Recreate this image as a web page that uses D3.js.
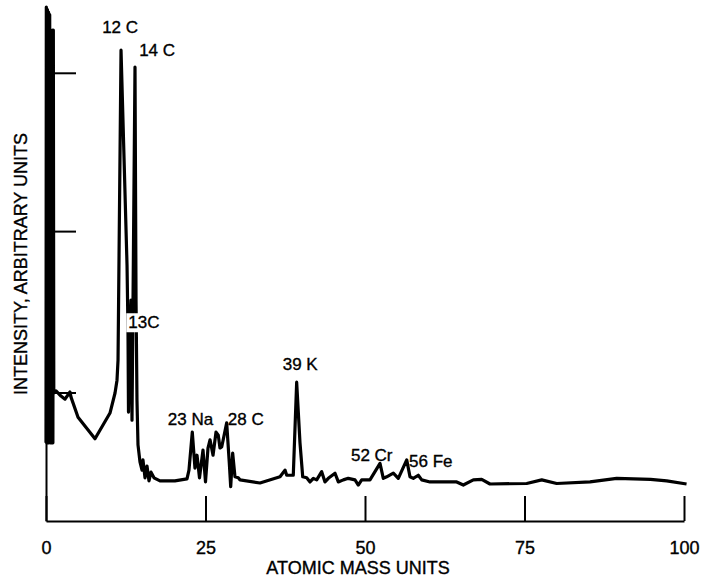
<!DOCTYPE html>
<html>
<head>
<meta charset="utf-8">
<script src="https://cdn.jsdelivr.net/npm/d3@7"></script>
<style>
  body { margin: 0; background: #fff; }
  text { font-family: "Liberation Sans", Arial, Helvetica, sans-serif; fill: #000; stroke: #000; stroke-width: 0.35px; }
</style>
</head>
<body>
<svg id="chart"></svg>
<script>
// spectrum: [atomic mass, intensity (arbitrary, 0-100)]
const spectrum = [
  [0, 15.2], [0.05, 100], [0.12, 15.2], [0.22, 99.5], [0.3, 15.2], [0.4, 99], [0.48, 15.2],
  [0.58, 98.5], [0.68, 15.2], [0.85, 15.2], [1.0, 95.5], [1.08, 15.2], [1.15, 95.5], [1.22, 24.9],
  [1.57, 25.3], [2.35, 24.3], [2.98, 23.7], [3.76, 25.1], [3.92, 24.1], [5.02, 20.2], [7.68, 16.0],
  [10.03, 21.0], [10.82, 24.9], [11.13, 27.4], [11.29, 31.3], [11.76, 91.6], [12.7, 49.8],
  [12.85, 37.2], [12.93, 21.2], [13.17, 37.2], [13.32, 43.0], [13.48, 19.6], [13.64, 43.0],
  [13.95, 88.3], [14.11, 43.0], [14.26, 23.5], [14.42, 14.8], [14.73, 11.5], [15.05, 9.9],
  [15.2, 11.9], [15.52, 8.4], [15.83, 10.7], [16.14, 7.8], [16.46, 9.5], [16.93, 8.4],
  [17.87, 7.8], [20.2, 7.8], [22.1, 8.2], [22.41, 9.9], [22.93, 17.3], [23.35, 10.3],
  [23.67, 12.8], [24.06, 8.4], [24.61, 13.8], [25.0, 7.6], [25.39, 14.2], [25.71, 15.8],
  [26.18, 12.8], [26.65, 17.3], [27.0, 16.7], [27.27, 14.2], [27.54, 14.4], [28.32, 19.1],
  [28.73, 11.3], [28.95, 6.7], [29.26, 13.2], [29.62, 8.6], [30.14, 8.4], [30.41, 8.0],
  [33.54, 7.4], [36.68, 8.6], [37.46, 9.9], [37.73, 8.9], [38.76, 8.9], [39.29, 27.0],
  [39.81, 15.2], [40.24, 8.6], [40.86, 8.4], [41.38, 7.6], [41.9, 8.3], [42.43, 8.0],
  [43.21, 9.6], [43.73, 7.6], [44.25, 8.3], [45.3, 9.3], [45.82, 7.6], [46.6, 8.0],
  [47.38, 8.3], [48.43, 8.0], [48.95, 7.0], [49.48, 8.0], [50.78, 8.0], [52.35, 11.2],
  [52.87, 8.3], [53.4, 8.6], [54.44, 9.3], [55.22, 8.3], [56.54, 11.9], [57.05, 8.6],
  [57.57, 8.3], [58.35, 8.9], [58.89, 8.0], [60.19, 7.6], [64.37, 7.6], [65.41, 7.0],
  [66.98, 8.0], [68.29, 8.1], [69.59, 7.2], [75.34, 7.3], [77.7, 8.0], [80.05, 7.3],
  [85.27, 7.6], [89.45, 8.3], [94.75, 8.1], [97.29, 7.8], [100.4, 7.2]
];

const xTicks = [0, 25, 50, 75, 100];
const yTicks = [25, 56.4, 87.2];

// peak labels, anchored at [mass, intensity] of the text's left baseline
const peakLabels = [
  { text: "12 C", mass: 8.8, intensity: 94.9 },
  { text: "14 C", mass: 14.6, intensity: 90.5 },
  { text: "13C", mass: 12.9, intensity: 37.5, boxed: true },
  { text: "23 Na", mass: 19.1, intensity: 18.7 },
  { text: "28 C", mass: 28.5, intensity: 18.7 },
  { text: "39 K", mass: 37.1, intensity: 29.4 },
  { text: "52 Cr", mass: 47.8, intensity: 11.7 },
  { text: "56 Fe", mass: 56.9, intensity: 10.5 }
];

const width = 711;
const height = 580;

const svg = d3.select("#chart")
    .attr("width", width)
    .attr("height", height);

const x = d3.scaleLinear().domain([0, 100]).range([46, 684]);
const y = d3.scaleLinear().domain([0, 100]).range([521, 7]);

// axes
const xAxis = svg.append("g")
    .attr("transform", `translate(0,${y(0)})`)
    .call(d3.axisBottom(x).tickValues(xTicks).tickSizeInner(-25).tickSizeOuter(0).tickPadding(20));

const yAxis = svg.append("g")
    .attr("transform", `translate(${x(0)},0)`)
    .call(d3.axisLeft(y).tickValues(yTicks).tickSizeInner(-30).tickSizeOuter(0).tickFormat(""));

svg.selectAll(".domain").attr("stroke", "#000").attr("stroke-width", 2);
svg.selectAll(".tick line").attr("stroke", "#000").attr("stroke-width", 2);
xAxis.selectAll(".tick text")
    .attr("font-size", 18)
    .attr("font-family", null);

// spectrum line
const line = d3.line()
    .x(d => x(d[0]))
    .y(d => y(d[1]));

svg.append("path")
    .datum(spectrum)
    .attr("fill", "none")
    .attr("stroke", "#000")
    .attr("stroke-width", 3.2)
    .attr("stroke-linejoin", "round")
    .attr("d", line);

// peak labels
const labels = svg.append("g");
peakLabels.forEach(p => {
    const t = labels.append("text")
        .attr("x", x(p.mass))
        .attr("y", y(p.intensity))
        .attr("font-size", 17)
        .text(p.text);
    if (p.boxed) {
        const b = t.node().getBBox();
        labels.insert("rect", "text")
            .attr("x", b.x - 2)
            .attr("y", b.y)
            .attr("width", b.width + 4)
            .attr("height", b.height)
            .attr("fill", "#fff");
    }
});

// axis titles
svg.append("text")
    .attr("x", 358)
    .attr("y", 574)
    .attr("text-anchor", "middle")
    .attr("font-size", 18)
    .text("ATOMIC MASS UNITS");

svg.append("text")
    .attr("transform", `translate(27,264) rotate(-90)`)
    .attr("text-anchor", "middle")
    .attr("font-size", 18)
    .text("INTENSITY, ARBITRARY UNITS");
</script>
</body>
</html>
